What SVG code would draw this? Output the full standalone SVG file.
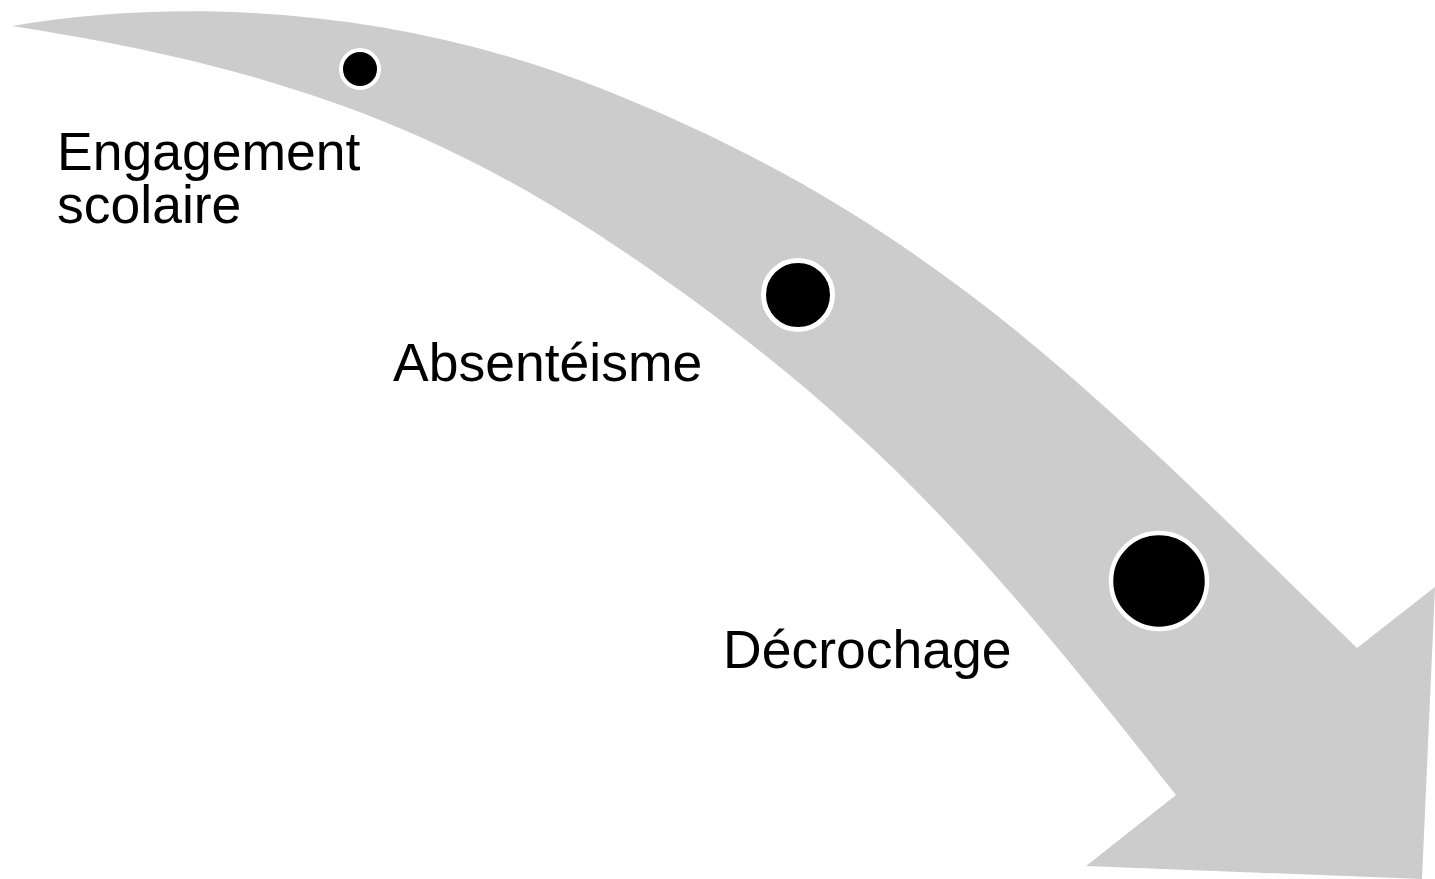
<svg xmlns="http://www.w3.org/2000/svg" width="1435" height="879" viewBox="0 0 1435 879">
<style>
.band{fill:#cccccc;stroke:none}
.dot{fill:#000000;stroke:#ffffff}
.lbl{font-family:"Liberation Sans",Arial,sans-serif;font-size:53.5px;fill:#000000}
</style>
<rect x="0" y="0" width="1435" height="879" fill="#ffffff"/>
<g id="connectors">
<path class="band" d="M12,26 C200,-6 414,14 600,88 C935.5,220.7 1098.5,397.4 1357,648 L1435,587 L1422,879 L1086,866 L1176,795 C1020.8,599 903,453 693,300 C491,153 328,75 12,26 Z"/>
</g>
<g id="node-engagement">
<circle class="dot" cx="360" cy="69" r="19" stroke-width="4"/>
<text class="lbl" x="57" y="170">Engagement</text>
<text class="lbl" x="57" y="223">scolaire</text>
</g>
<g id="node-absenteisme">
<circle class="dot" cx="798" cy="295" r="34.5" stroke-width="5"/>
<text class="lbl" x="393" y="381">Absentéisme</text>
</g>
<g id="node-decrochage">
<circle class="dot" cx="1159" cy="581" r="48" stroke-width="4.5"/>
<text class="lbl" x="723" y="668">Décrochage</text>
</g>
</svg>
